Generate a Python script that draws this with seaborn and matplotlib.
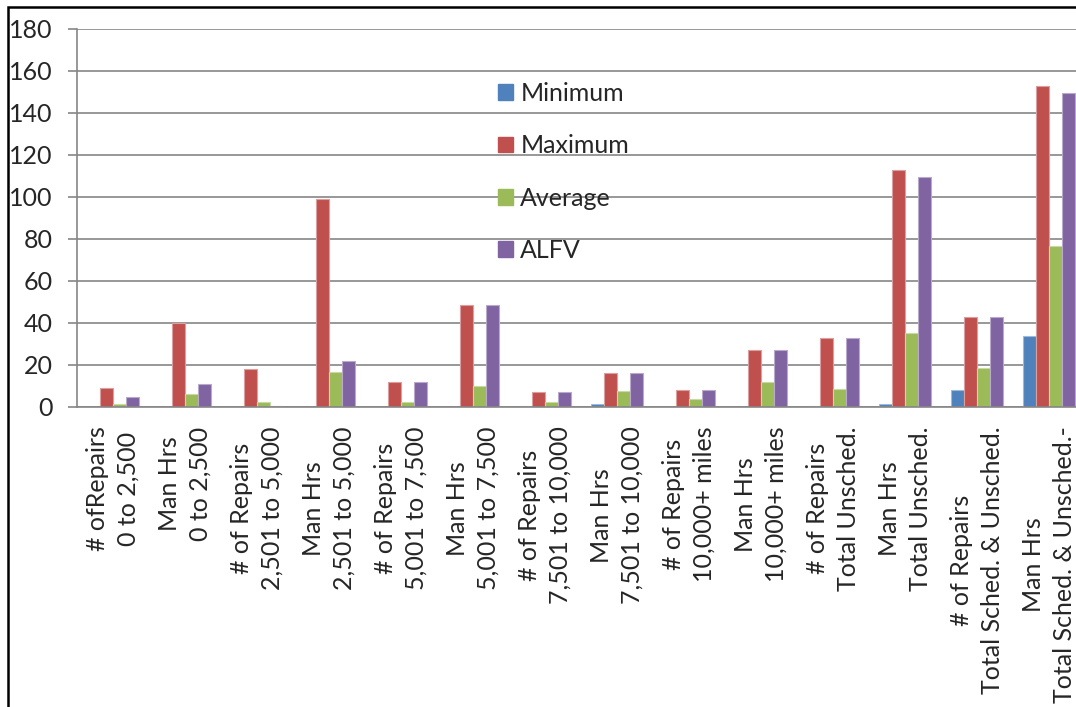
import matplotlib
matplotlib.use("Agg")
import matplotlib.pyplot as plt
import matplotlib.patches as mpatches
import matplotlib.colors as mcolors
import seaborn as sns
import pandas as pd

categories = [
    "# ofRepairs\n0 to 2,500",
    "Man Hrs\n0 to 2,500",
    "# of Repairs\n2,501 to 5,000",
    "Man Hrs\n2,501 to 5,000",
    "# of Repairs\n5,001 to 7,500",
    "Man Hrs\n5,001 to 7,500",
    "# of Repairs\n7,501 to 10,000",
    "Man Hrs\n7,501 to 10,000",
    "# of Repairs\n10,000+ miles",
    "Man Hrs\n10,000+ miles",
    "# of Repairs\nTotal Unsched.",
    "Man Hrs\nTotal Unsched.",
    "# of Repairs\nTotal Sched. & Unsched.",
    "Man Hrs\nTotal Sched. & Unsched.-",
]
minimum = [0, 0, 0, 0, 0, 0, 0.6, 1.6, 0, 0, 0.6, 1.6, 8, 34]
maximum = [9, 40, 18, 99, 12, 48.5, 7, 16, 8, 27, 33, 113, 43, 153]
average = [1.6, 6.3, 2.5, 16.5, 2.5, 10, 2.5, 7.4, 3.7, 12, 8.8, 35.2, 18.8, 76.5]
alfv = [4.6, 10.8, 0.6, 22, 12, 48.5, 7, 16, 8, 27, 33, 109.5, 43, 149.5]
series_names = ["Minimum", "Maximum", "Average", "ALFV"]
colors = ["#4F81BD", "#C0504D", "#9BBB59", "#8064A2"]
yticks = [0, 20, 40, 60, 80, 100, 120, 140, 160, 180]

rows = []
for name, vals in zip(series_names, [minimum, maximum, average, alfv]):
    for c, v in zip(categories, vals):
        rows.append({"category": c, "series": name, "value": v})
df = pd.DataFrame(rows)

sns.set_style("white")
plt.rcParams["font.family"] = ["Lato", "DejaVu Sans"]

FS = 18
fig = plt.figure(figsize=(10.76, 7.07), dpi=100)
ax = fig.add_axes([77 / 1076, (707 - 407) / 707, 1008 / 1076, 378 / 707])

sns.barplot(data=df, x="category", y="value", hue="series", order=categories,
            hue_order=series_names, palette=colors, width=0.72, saturation=1,
            dodge=True, ax=ax, linewidth=0, legend=False)

# light outline on bars, as in the reference
for p in ax.patches:
    fc = mcolors.to_rgb(p.get_facecolor())
    ec = tuple(0.55 * c + 0.45 for c in fc)
    p.set_edgecolor(ec)
    p.set_linewidth(0.8)

grid_c = "#868686"
ax.set_ylim(0, 180)
ax.set_xlim(-0.5, len(categories) - 0.5)
ax.set_yticks(yticks)
ax.set_yticklabels([str(t) for t in yticks], fontsize=FS)
ax.yaxis.grid(True, color=grid_c, linewidth=1.2)
ax.set_axisbelow(True)
ax.set_xlabel("")
ax.set_ylabel("")

ax.set_xticks(range(len(categories)))
ax.set_xticklabels(categories, rotation=90, fontsize=FS, ha="center", va="top",
                   multialignment="center", linespacing=1.4)
ax.set_xticks([i - 0.5 for i in range(len(categories) + 1)], minor=True)
ax.tick_params(axis="x", which="major", length=0, pad=14)
ax.tick_params(axis="x", which="minor", length=6.5, width=1.2, color=grid_c, direction="out")
ax.tick_params(axis="y", length=6.5, width=1.2, color=grid_c, direction="out", pad=11, left=True)

for s in ["top", "right"]:
    ax.spines[s].set_visible(False)
for s in ["left", "bottom"]:
    ax.spines[s].set_color(grid_c)
    ax.spines[s].set_linewidth(1.2)

handles = [mpatches.Patch(color=c, label=n) for c, n in zip(colors, series_names)]
ax.legend(handles=handles, loc="upper left", bbox_to_anchor=(0.408, 0.886),
          frameon=False, fontsize=FS, handlelength=0.6, handleheight=0.6,
          handletextpad=0.28, labelspacing=1.17, borderaxespad=0)

border = mpatches.Rectangle((8 / 1076, -0.1), 1.2, (707 - 7) / 707 + 0.1,
                            transform=fig.transFigure, fill=False,
                            edgecolor="black", linewidth=1.8, clip_on=False)
fig.patches.append(border)

fig.savefig("out.png", dpi=100)
